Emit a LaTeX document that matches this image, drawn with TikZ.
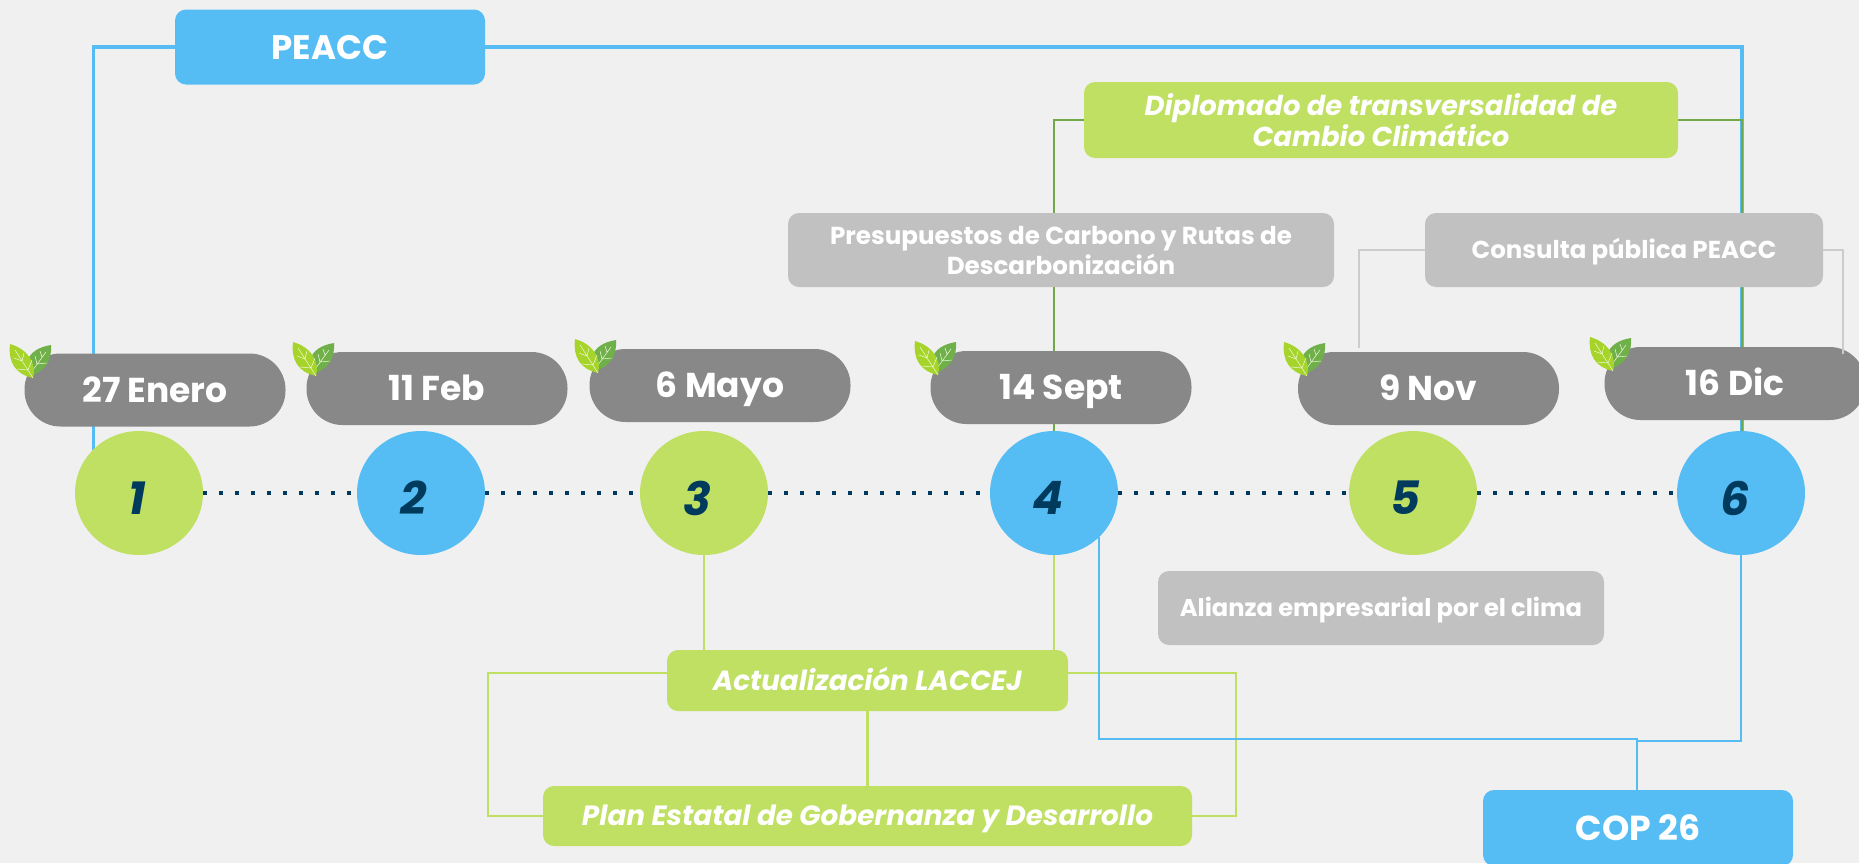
\documentclass[tikz,border=0pt]{standalone}
\usepackage{fontspec}
\setmainfont{Poppins}
\usetikzlibrary{backgrounds,calc,shapes.geometric}
\definecolor{bgc}{HTML}{F0F0F0}
\definecolor{lime}{HTML}{BFE063}
\definecolor{sky}{HTML}{55BDF4}
\definecolor{pillc}{HTML}{888888}
\definecolor{boxgrey}{HTML}{C1C1C1}
\definecolor{lingrey}{HTML}{CCCCCC}
\definecolor{navy}{HTML}{003A5D}
\definecolor{dgreen}{HTML}{70A84A}
\definecolor{leafa}{HTML}{A6D42A}
\definecolor{leafb}{HTML}{6FB04A}
\tikzset{
  x=1pt,y=-1pt,
  fs/.style={font=\fontsize{#1}{30}\selectfont\bfseries},
  ifs/.style={font=\fontsize{#1}{31}\selectfont\bfseries\itshape},
  capline/.style={text height=#1pt,text depth=0pt},
  box/.style n args={4}{draw=none,rounded corners=11pt,inner sep=0pt,text=white,align=center,minimum width=#1pt,minimum height=#2pt,fill=#3,fs=#4},
  pill/.style={draw=none,rounded corners=36pt,inner sep=0pt,text=white,align=center,minimum width=261pt,minimum height=73pt,fill=pillc,fs=34.5,capline=24},
  num/.style={ellipse,draw=none,inner sep=0pt,minimum width=128pt,minimum height=124pt,fill=#1},
  digit/.style={text=navy,inner sep=0pt,font=\fontsize{46}{50}\selectfont\bfseries\itshape},
  dotline/.style={navy,line width=4.2pt,dash pattern=on 4.2pt off 11.8pt},
  thickblue/.style={sky,line width=3.8pt},
  thinblue/.style={sky,line width=2.2pt},
  limeline/.style={lime,line width=2.2pt},
  greenline/.style={dgreen,line width=2.2pt},
  greyline/.style={lingrey,line width=2.2pt},
  vein/.style={white!85!leafa,line width=0.5pt},
  leafpic/.pic={
    \fill[leafb] (41,1) .. controls (28,3) and (20,9) .. (18,16) -- (20,32) .. controls (36,27) and (42,16) .. (41,1) -- cycle;
    \draw[vein] (20,30) -- (36,8) (27,20) -- (25,12) (27,20) -- (37,19) (32,13) -- (30,7);
    \fill[leafa] (0,0) .. controls (-2,18) and (5,30) .. (23,34) .. controls (27,18) and (17,5) .. (0,0) -- cycle;
    \draw[vein] (23,34) -- (5,6) (18,26) -- (7,25) (18,26) -- (22,16) (12,17) -- (4,14) (12,17) -- (14,9);
  }
}
\begin{document}
\begin{tikzpicture}
\useasboundingbox (0,0) rectangle (1859,863);
\clip (0,0) rectangle (1859,863);
% circles
\node[num=lime] (c1) at (139,493) {};
\node[num=sky]  (c2) at (421,493) {};
\node[num=lime] (c3) at (704,493) {};
\node[num=sky]  (c4) at (1054,493) {};
\node[num=lime] (c5) at (1413,493) {};
\node[num=sky]  (c6) at (1741,493) {};
\node[digit] (d1) at (137,498) {1};
\node[digit] (d2) at (414,498) {2};
\node[digit] (d3) at (697,498) {3};
\node[digit] (d4) at (1048,498) {4};
\node[digit] (d5) at (1405,498) {5};
\node[digit] (d6) at (1735,498) {6};
% date pills
\node[pill] (p1) at (155,390) {27 Enero};
\node[pill] (p2) at (437,388.5) {11 Feb};
\node[pill] (p3) at (720,385.5) {6 Mayo};
\node[pill] (p4) at (1061,387.5) {14 Sept};
\node[pill] (p5) at (1428.5,388.5) {9 Nov};
\node[pill] (p6) at (1735,383.5) {16 Dic};
% boxes
\node[box={310}{75}{sky}{34},capline=24] (peacc) at (330,47) {PEACC};
\node[box={594}{76}{lime}{27.4},ifs=27.4] (dipl) at (1381,120) {Diplomado de transversalidad de\\Cambio Climático};
\node[box={546}{74}{boxgrey}{24.6}] (pres) at (1061,250) {Presupuestos de Carbono y Rutas de\\Descarbonización};
\node[box={398}{74}{boxgrey}{24.5},capline=17] (cons) at (1624,250) {Consulta pública PEACC};
\node[box={446}{74}{boxgrey}{24.2},capline=17] (alia) at (1381,608) {Alianza empresarial por el clima};
\node[box={401}{61}{lime}{27.7},ifs=27.7,capline=19.4] (actu) at (867.5,680.5) {Actualización LACCEJ};
\node[box={649}{60}{lime}{27.8},ifs=27.8,capline=19.4] (plan) at (867.5,816) {Plan Estatal de Gobernanza y Desarrollo};
\node[box={310}{76}{sky}{34.7},capline=24] (cop) at (1638,828) {COP 26};
% free bends
\coordinate (a) at (93.5,47);
\coordinate (ae) at (93.5,450);
\coordinate (b) at (1742,47);
\coordinate (ce) at (1359,348);
\coordinate (cr) at (1843,250);
\coordinate (crb) at (1843,354);
\coordinate (cl) at (1359,250);
\coordinate (bl1) at (1099,537);
\coordinate (bl2) at (1099,739);
\coordinate (bl3) at (1637,739);
\coordinate (bl4) at (1741,741);
\coordinate (bl5) at (1637,741);
\coordinate (al) at (488,673);
\coordinate (ar) at (1236,673);
\coordinate (pl) at (488,816);
\coordinate (pr) at (1236,816);
\coordinate (dl) at (1054,120);
\coordinate (dr) at (1742,120);
\begin{scope}[on background layer]
\fill[bgc] (0,0) rectangle (1859,863);
\draw[thickblue] (peacc.west) -- (a) -- (ae);
\draw[thickblue] (peacc.east) -- (b) -- (b |- c6.north);
\draw[greenline] (dipl.west) -- (dl) -- (c4.north);
\draw[greenline] (dipl.east) -- (dr) -- (dr |- c6.north);
\draw[limeline] (c3.south) -- (c3.south |- actu.north);
\draw[limeline] (c4.south) -- (c4.south |- actu.north);
\draw[limeline] (actu.south) -- (plan.north);
\draw[limeline] (al -| actu.west) -- (al) -- (pl) -- (plan.west);
\draw[limeline] (ar -| actu.east) -- (ar) -- (pr) -- (plan.east);
\draw[thinblue] (bl1) -- (bl2) -- (bl3) -- (bl3 |- cop.north);
\draw[thinblue] (c6.south) -- (bl4) -- (bl5);
\draw[dotline] (c1.east) -- (c2.west);
\draw[dotline] (c2.east) -- (c3.west);
\draw[dotline] (c3.east) -- (c4.west);
\draw[dotline] (c4.east) -- (c5.west);
\draw[dotline] (c5.east) -- (c6.west);
\end{scope}
\draw[greyline] (cons.west |- cl) -- (cl) -- (ce);
\draw[greyline] (cons.east |- cr) -- (cr) -- (crb);
% leaves
\pic at (10,344) {leafpic};
\pic at (293,342) {leafpic};
\pic at (575,339) {leafpic};
\pic at (915,341) {leafpic};
\pic at (1284,342) {leafpic};
\pic at (1590,337) {leafpic};
\end{tikzpicture}
\end{document}
